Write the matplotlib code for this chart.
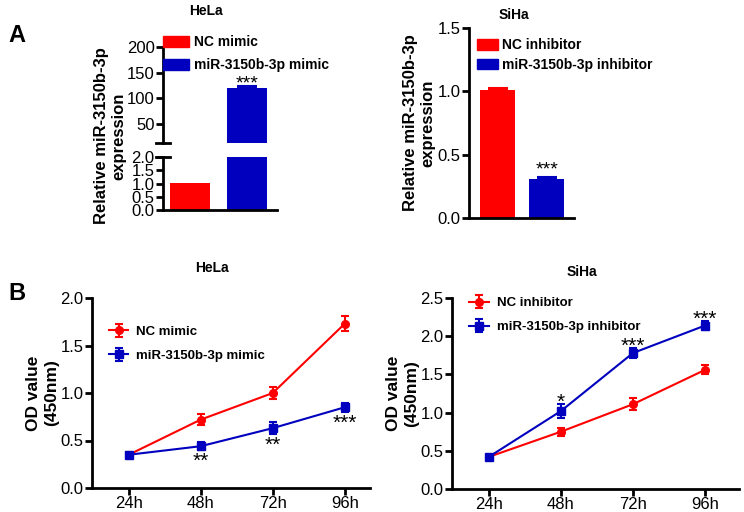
import numpy as np
import matplotlib
matplotlib.use("Agg")
from matplotlib import pyplot as plt
from matplotlib.patches import Patch

plt.rcParams['font.family'] = ['Liberation Sans', 'DejaVu Sans']

RED = '#FF0000'
BLUE = '#0000BE'

# panel A data
hela_bar_labels = ['NC mimic', 'miR-3150b-3p mimic']
hela_bar_vals = [1.02, 120.0]
hela_bar_err = [0.0, 4.0]
siha_bar_labels = ['NC inhibitor', 'miR-3150b-3p inhibitor']
siha_bar_vals = [1.01, 0.31]
siha_bar_err = [0.02, 0.01]

# panel B data
times = ['24h', '48h', '72h', '96h']
hela_nc = [0.35, 0.72, 1.00, 1.73]
hela_nc_err = [0.03, 0.06, 0.06, 0.08]
hela_mi = [0.35, 0.44, 0.63, 0.85]
hela_mi_err = [0.02, 0.04, 0.06, 0.05]
hela_stars = ['', '**', '**', '***']
siha_nc = [0.42, 0.75, 1.11, 1.56]
siha_nc_err = [0.03, 0.05, 0.08, 0.06]
siha_in = [0.42, 1.02, 1.78, 2.14]
siha_in_err = [0.03, 0.09, 0.06, 0.06]
siha_stars = ['', '*', '***', '***']

W, H = 744, 512
fig = plt.figure(figsize=(7.44, 5.12), dpi=100)


def box(x0, y0, x1, y1):
    # pixel box -> figure fraction [left, bottom, width, height]
    return [x0 / W, 1 - y1 / H, (x1 - x0) / W, (y1 - y0) / H]


def style(ax, size):
    for s in ['top', 'right']:
        ax.spines[s].set_visible(False)
    for s in ['left', 'bottom']:
        ax.spines[s].set_linewidth(2)
    ax.tick_params(width=2, length=5, labelsize=size, pad=1)


def ftext(x, y, s, **kw):
    fig.text(x / W, 1 - y / H, s, **kw)


# ---- A HeLa (broken axis) ----
ax_up = fig.add_axes(box(163, 47, 277, 143))
ax_lo = fig.add_axes(box(163, 157, 277, 210))
xb = np.arange(2)
cols = [RED, BLUE]
for ax in (ax_up, ax_lo):
    ax.bar(xb, hela_bar_vals, width=0.7, color=cols)
    style(ax, 12)
    ax.set_xlim(-0.47, 1.53)
    ax.set_xticks([])
ax_up.errorbar(xb[1:], hela_bar_vals[1:], yerr=[[0], hela_bar_err[1:]],
               fmt='none', ecolor=BLUE, capsize=7, elinewidth=1.5, capthick=1.5)
ax_up.set_ylim(12, 200)
ax_up.set_yticks([50, 100, 150, 200])
ax_up.spines['bottom'].set_visible(False)
ax_lo.set_ylim(0, 2)
ax_lo.set_yticks([0, 0.5, 1.0, 1.5, 2.0])
ax_lo.set_yticklabels(['0.0', '0.5', '1.0', '1.5', '2.0'])
# break marks
ax_up.plot([-0.06, 0.06], [0, 0], transform=ax_up.transAxes, color='k', lw=2, clip_on=False)
ax_lo.plot([-0.06, 0.06], [1, 1], transform=ax_lo.transAxes, color='k', lw=2, clip_on=False)
ax_up.text(xb[1], hela_bar_vals[1] + hela_bar_err[1] + 4, '***', ha='center', va='center', fontsize=14)
ax_up.legend([Patch(color=c) for c in cols], hela_bar_labels, loc='center left',
             bbox_to_anchor=(0.0, 0.93), frameon=False, prop={'weight': 'bold', 'size': 10},
             handlelength=1.9, handleheight=0.9, handletextpad=0.3, labelspacing=0.65,
             borderaxespad=0, borderpad=0)
ftext(206, 11, 'HeLa', ha='center', va='center', fontsize=10, fontweight='bold')
ftext(110, 136, 'Relative miR-3150b-3p\nexpression', rotation=90,
      ha='center', va='center', fontsize=12, fontweight='bold', linespacing=1.15)
ftext(8, 35, 'A', ha='left', va='center', fontsize=17, fontweight='bold')

# ---- A SiHa ----
ax = fig.add_axes(box(469, 28, 574, 218))
ax.bar(xb, siha_bar_vals, width=0.71, color=cols)
for i in range(2):
    ax.errorbar(xb[i], siha_bar_vals[i], yerr=[[0], [siha_bar_err[i]]], fmt='none',
                ecolor=cols[i], capsize=7, elinewidth=1.5, capthick=1.5)
style(ax, 12)
ax.set_xlim(-0.58, 1.55)
ax.set_xticks([])
ax.set_ylim(0, 1.5)
ax.set_yticks([0, 0.5, 1.0, 1.5])
ax.set_yticklabels(['0.0', '0.5', '1.0', '1.5'])
ax.text(xb[1], siha_bar_vals[1] + siha_bar_err[1] - 0.01, '***', ha='center', va='bottom', fontsize=14)
ax.legend([Patch(color=c) for c in cols], siha_bar_labels, loc='upper left',
          bbox_to_anchor=(0.075, 0.945), frameon=False, prop={'weight': 'bold', 'size': 10},
          handlelength=1.5, handleheight=0.8, handletextpad=0.3, labelspacing=0.4,
          borderaxespad=0, borderpad=0)
ax.set_ylabel('Relative miR-3150b-3p\nexpression', fontsize=12, fontweight='bold',
              linespacing=1.15, labelpad=2)
ftext(514, 15, 'SiHa', ha='center', va='center', fontsize=10, fontweight='bold')

# ---- B HeLa ----
xt = np.arange(len(times))
ax = fig.add_axes(box(92, 298, 370, 488))
ax.errorbar(xt, hela_nc, yerr=hela_nc_err, color=RED, marker='o', ms=5.5, lw=1.5,
            capsize=3, elinewidth=1.5, capthick=1.5, label='NC mimic')
ax.errorbar(xt, hela_mi, yerr=hela_mi_err, color=BLUE, marker='s', ms=5.5, lw=1.5,
            capsize=3, elinewidth=1.5, capthick=1.5, label='miR-3150b-3p mimic')
for i, s in enumerate(hela_stars):
    if s:
        ax.text(xt[i], hela_mi[i] - hela_mi_err[i] - 0.02, s, ha='center', va='top', fontsize=15)
style(ax, 12)
ax.set_xlim(-0.51, 3.35)
ax.set_ylim(0, 2.0)
ax.set_yticks([0, 0.5, 1.0, 1.5, 2.0])
ax.set_yticklabels(['0.0', '0.5', '1.0', '1.5', '2.0'])
ax.set_xticks(xt)
ax.set_xticklabels(times)
ax.legend(loc='upper left', bbox_to_anchor=(0.06, 0.855), frameon=False,
          prop={'weight': 'bold', 'size': 9.5}, handlelength=1.5, handletextpad=0.6,
          labelspacing=0.9, borderaxespad=0, borderpad=0)
ax.set_ylabel('OD value\n(450nm)', fontsize=12.5, fontweight='bold', linespacing=1.25, labelpad=1)
ftext(212, 268, 'HeLa', ha='center', va='center', fontsize=10, fontweight='bold')
ftext(8, 293, 'B', ha='left', va='center', fontsize=17, fontweight='bold')

# ---- B SiHa ----
ax = fig.add_axes(box(452, 298, 739, 489))
ax.errorbar(xt, siha_nc, yerr=siha_nc_err, color=RED, marker='o', ms=5.5, lw=1.5,
            capsize=3, elinewidth=1.5, capthick=1.5, label='NC inhibitor')
ax.errorbar(xt, siha_in, yerr=siha_in_err, color=BLUE, marker='s', ms=5.5, lw=1.5,
            capsize=3, elinewidth=1.5, capthick=1.5, label='miR-3150b-3p inhibitor')
for i, s in enumerate(siha_stars):
    if s:
        ax.text(xt[i], siha_in[i] + siha_in_err[i] - 0.1, s, ha='center', va='bottom', fontsize=15)
style(ax, 12)
ax.set_xlim(-0.51, 3.47)
ax.set_ylim(0, 2.5)
ax.set_yticks([0, 0.5, 1.0, 1.5, 2.0, 2.5])
ax.set_yticklabels(['0.0', '0.5', '1.0', '1.5', '2.0', '2.5'])
ax.set_xticks(xt)
ax.set_xticklabels(times)
ax.legend(loc='upper left', bbox_to_anchor=(0.06, 1.005), frameon=False,
          prop={'weight': 'bold', 'size': 9.5}, handlelength=1.5, handletextpad=0.6,
          labelspacing=0.9, borderaxespad=0, borderpad=0)
ax.set_ylabel('OD value\n(450nm)', fontsize=12.5, fontweight='bold', linespacing=1.25, labelpad=1)
ftext(582, 272, 'SiHa', ha='center', va='center', fontsize=10, fontweight='bold')

fig.savefig('out.png', dpi=100)
